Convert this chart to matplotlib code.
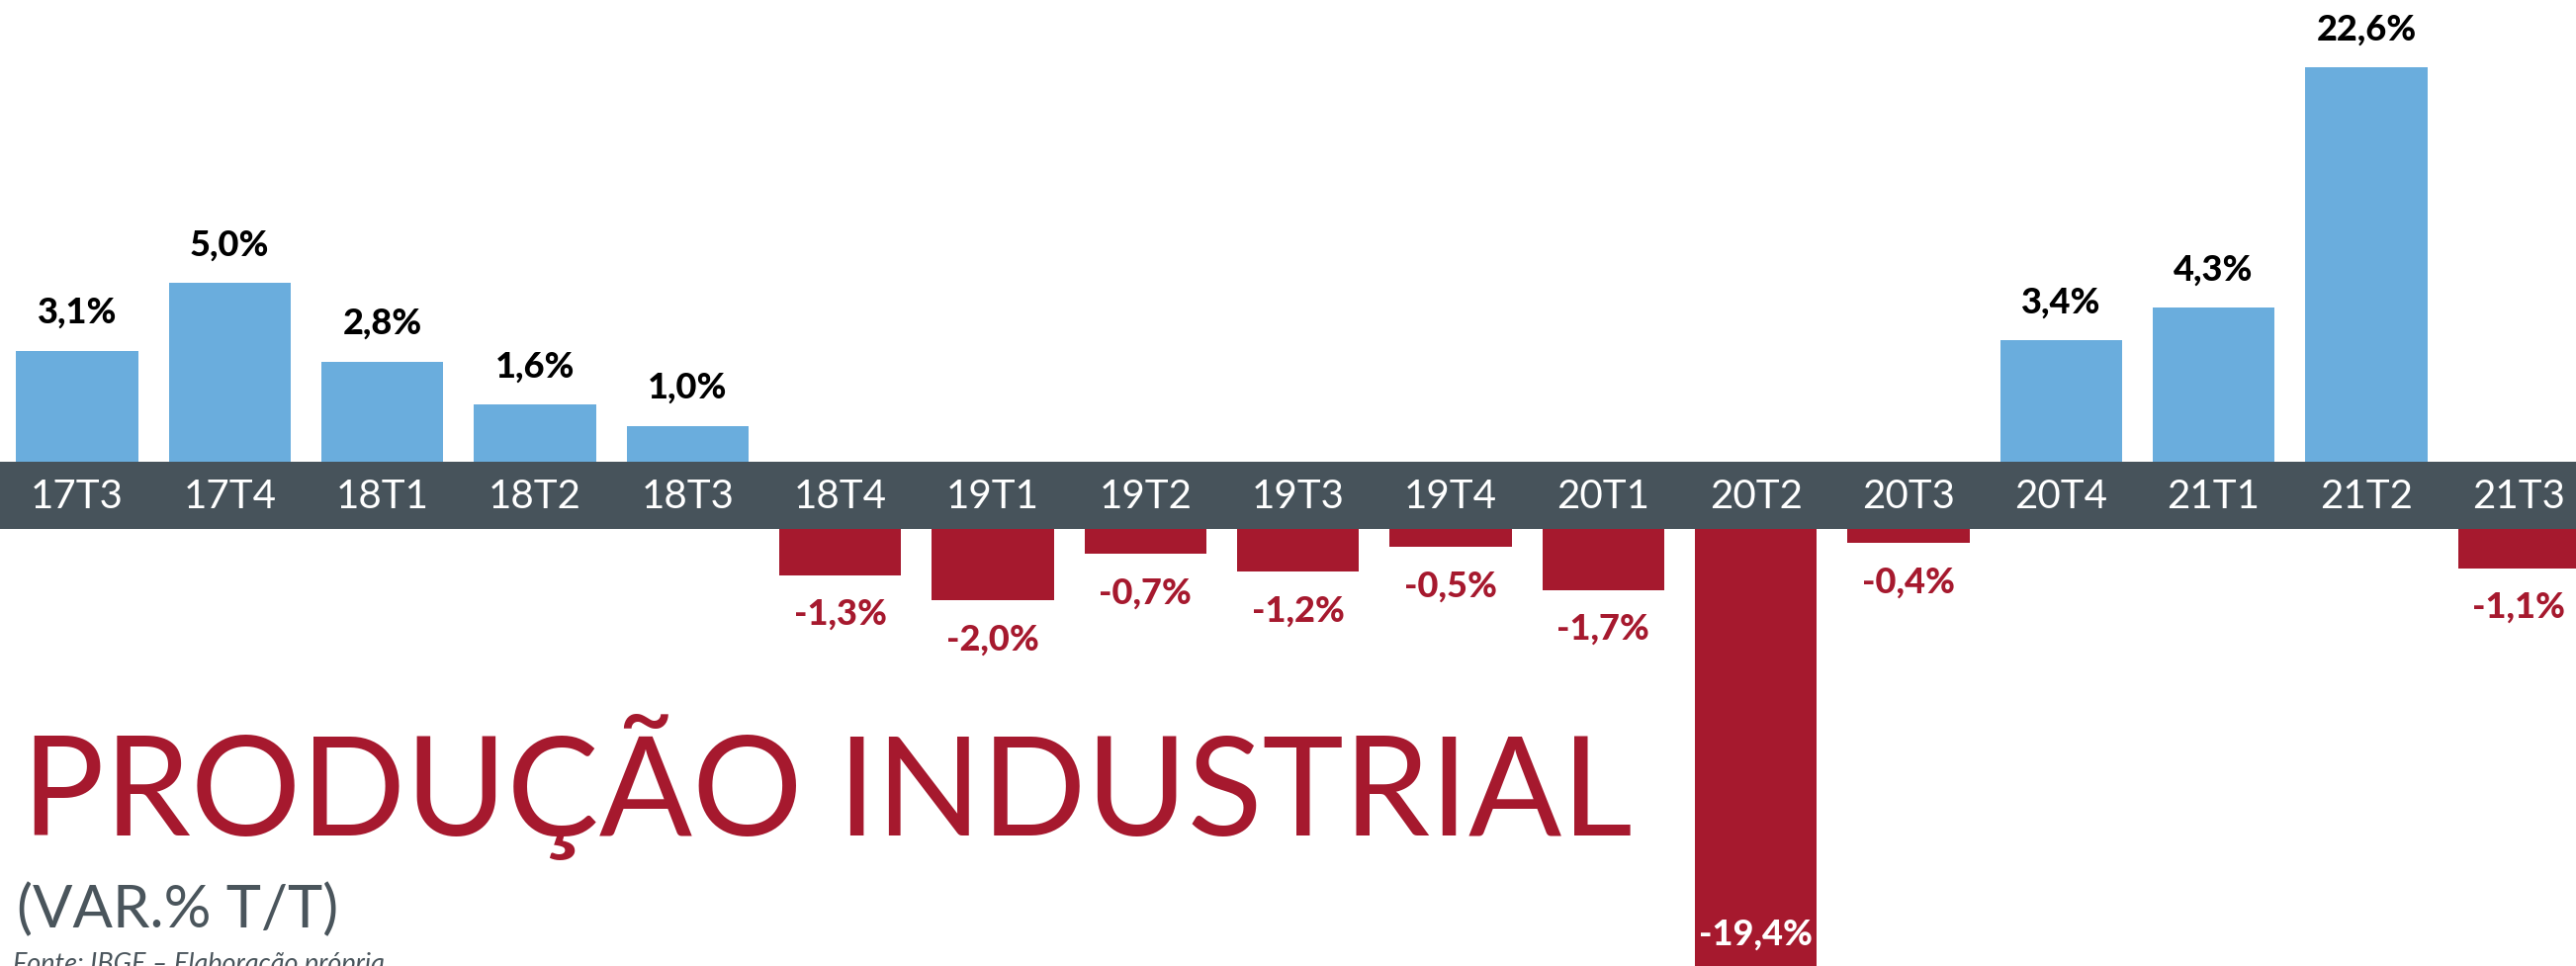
import matplotlib
matplotlib.use('Agg')
import matplotlib.pyplot as plt
import matplotlib.transforms as mtransforms
from matplotlib.patches import Rectangle
import numpy as np

# ---------------- data ----------------
categories = ['17T3', '17T4', '18T1', '18T2', '18T3', '18T4', '19T1', '19T2', '19T3',
              '19T4', '20T1', '20T2', '20T3', '20T4', '21T1', '21T2', '21T3']
values = [3.1, 5.0, 2.8, 1.6, 1.0, -1.3, -2.0, -0.7, -1.2,
          -0.5, -1.7, -19.4, -0.4, 3.4, 4.3, 22.6, -1.1]
title = 'PRODUÇÃO INDUSTRIAL'
subtitle = '(VAR.% T/T)'
source = 'Fonte: IBGE – Elaboração própria'

# ---------------- style ----------------
BLUE = '#6AADDD'
RED = '#A6192E'
BAND = '#47535B'
GREY = '#4A555C'
plt.rcParams['font.family'] = ['Lato', 'DejaVu Sans']

W, H = 2605, 977
fig = plt.figure(figsize=(W / 100, H / 100), dpi=100)
fig.patch.set_facecolor('white')

def fy(px):
    return 1 - px / H

band_top, band_bot = 467, 535
ppu = 36.2          # pixels per unit
pitch = 154.33
x0 = 78.0

ax_pos = fig.add_axes([0, fy(band_top), 1, band_top / H])
ax_neg = fig.add_axes([0, 0, 1, (H - band_bot) / H])

k = 0.342
def fwd(v):
    v = np.asarray(v, dtype=float)
    return np.where(v <= 5, v, 5 + (v - 5) * k)
def inv(u):
    u = np.asarray(u, dtype=float)
    return np.where(u <= 5, u, 5 + (u - 5) / k)

ax_pos.set_yscale('function', functions=(fwd, inv))

x = np.arange(len(categories))
vals = np.array(values)
pos = vals > 0
neg = ~pos

ax_pos.bar(x[pos], vals[pos], width=0.8, color=BLUE)
ax_neg.bar(x[neg], vals[neg], width=0.8, color=RED)

xl = (-x0 / pitch, (W - x0) / pitch)
for ax in (ax_pos, ax_neg):
    ax.set_xlim(*xl)
    ax.axis('off')
ax_pos.set_ylim(0, float(inv(band_top / ppu)))
neg_min = -(H - band_bot) / ppu
ax_neg.set_ylim(neg_min, 0)

def fmt(v):
    return ('%.1f%%' % v).replace('.', ',')

LW = 'black'
for xi, v in zip(x, vals):
    if v > 0:
        ax_pos.annotate(fmt(v), (xi, v), xytext=(0, 27.5), textcoords='offset points',
                        ha='center', va='center', fontsize=26, fontweight=LW,
                        color='black', annotation_clip=False)
    elif v < neg_min:
        ax_neg.annotate(fmt(v), (xi, neg_min), xytext=(0, 23), textcoords='offset points',
                        ha='center', va='center', fontsize=26, fontweight=LW,
                        color='white', annotation_clip=False)
    else:
        ax_neg.annotate(fmt(v), (xi, v), xytext=(0, -28.5), textcoords='offset points',
                        ha='center', va='center', fontsize=26, fontweight=LW,
                        color=RED, annotation_clip=False)

# band with category labels
fig.patches.append(Rectangle((0, fy(band_bot)), 1, (band_bot - band_top) / H,
                             transform=fig.transFigure, facecolor=BAND,
                             edgecolor='none', zorder=5))
trans = mtransforms.blended_transform_factory(ax_neg.transData, fig.transFigure)
for xi, c in zip(x, categories):
    fig.text(xi, fy(502), c, transform=trans, ha='center', va='center',
             fontsize=29, fontweight='normal', color='white', zorder=6)

# titles
t1 = fig.text(22 / W, fy(845), title, ha='left', va='baseline', fontsize=110,
              color=RED, fontweight='normal')
t2 = fig.text(17 / W, fy(938), subtitle, ha='left', va='baseline', fontsize=48,
              color=GREY, fontweight='normal')
t3 = fig.text(13 / W, fy(963), source, ha='left', va='top', fontsize=22,
              color=GREY, fontstyle='italic', fontweight='normal')

fig.canvas.draw()
r = fig.canvas.get_renderer()
for t, target in ((t1, 1628), (t2, 325), (t3, 375)):
    bb = t.get_window_extent(r)
    t.set_fontsize(t.get_fontsize() * target / bb.width)

fig.savefig('out.png', dpi=100, facecolor='white')
